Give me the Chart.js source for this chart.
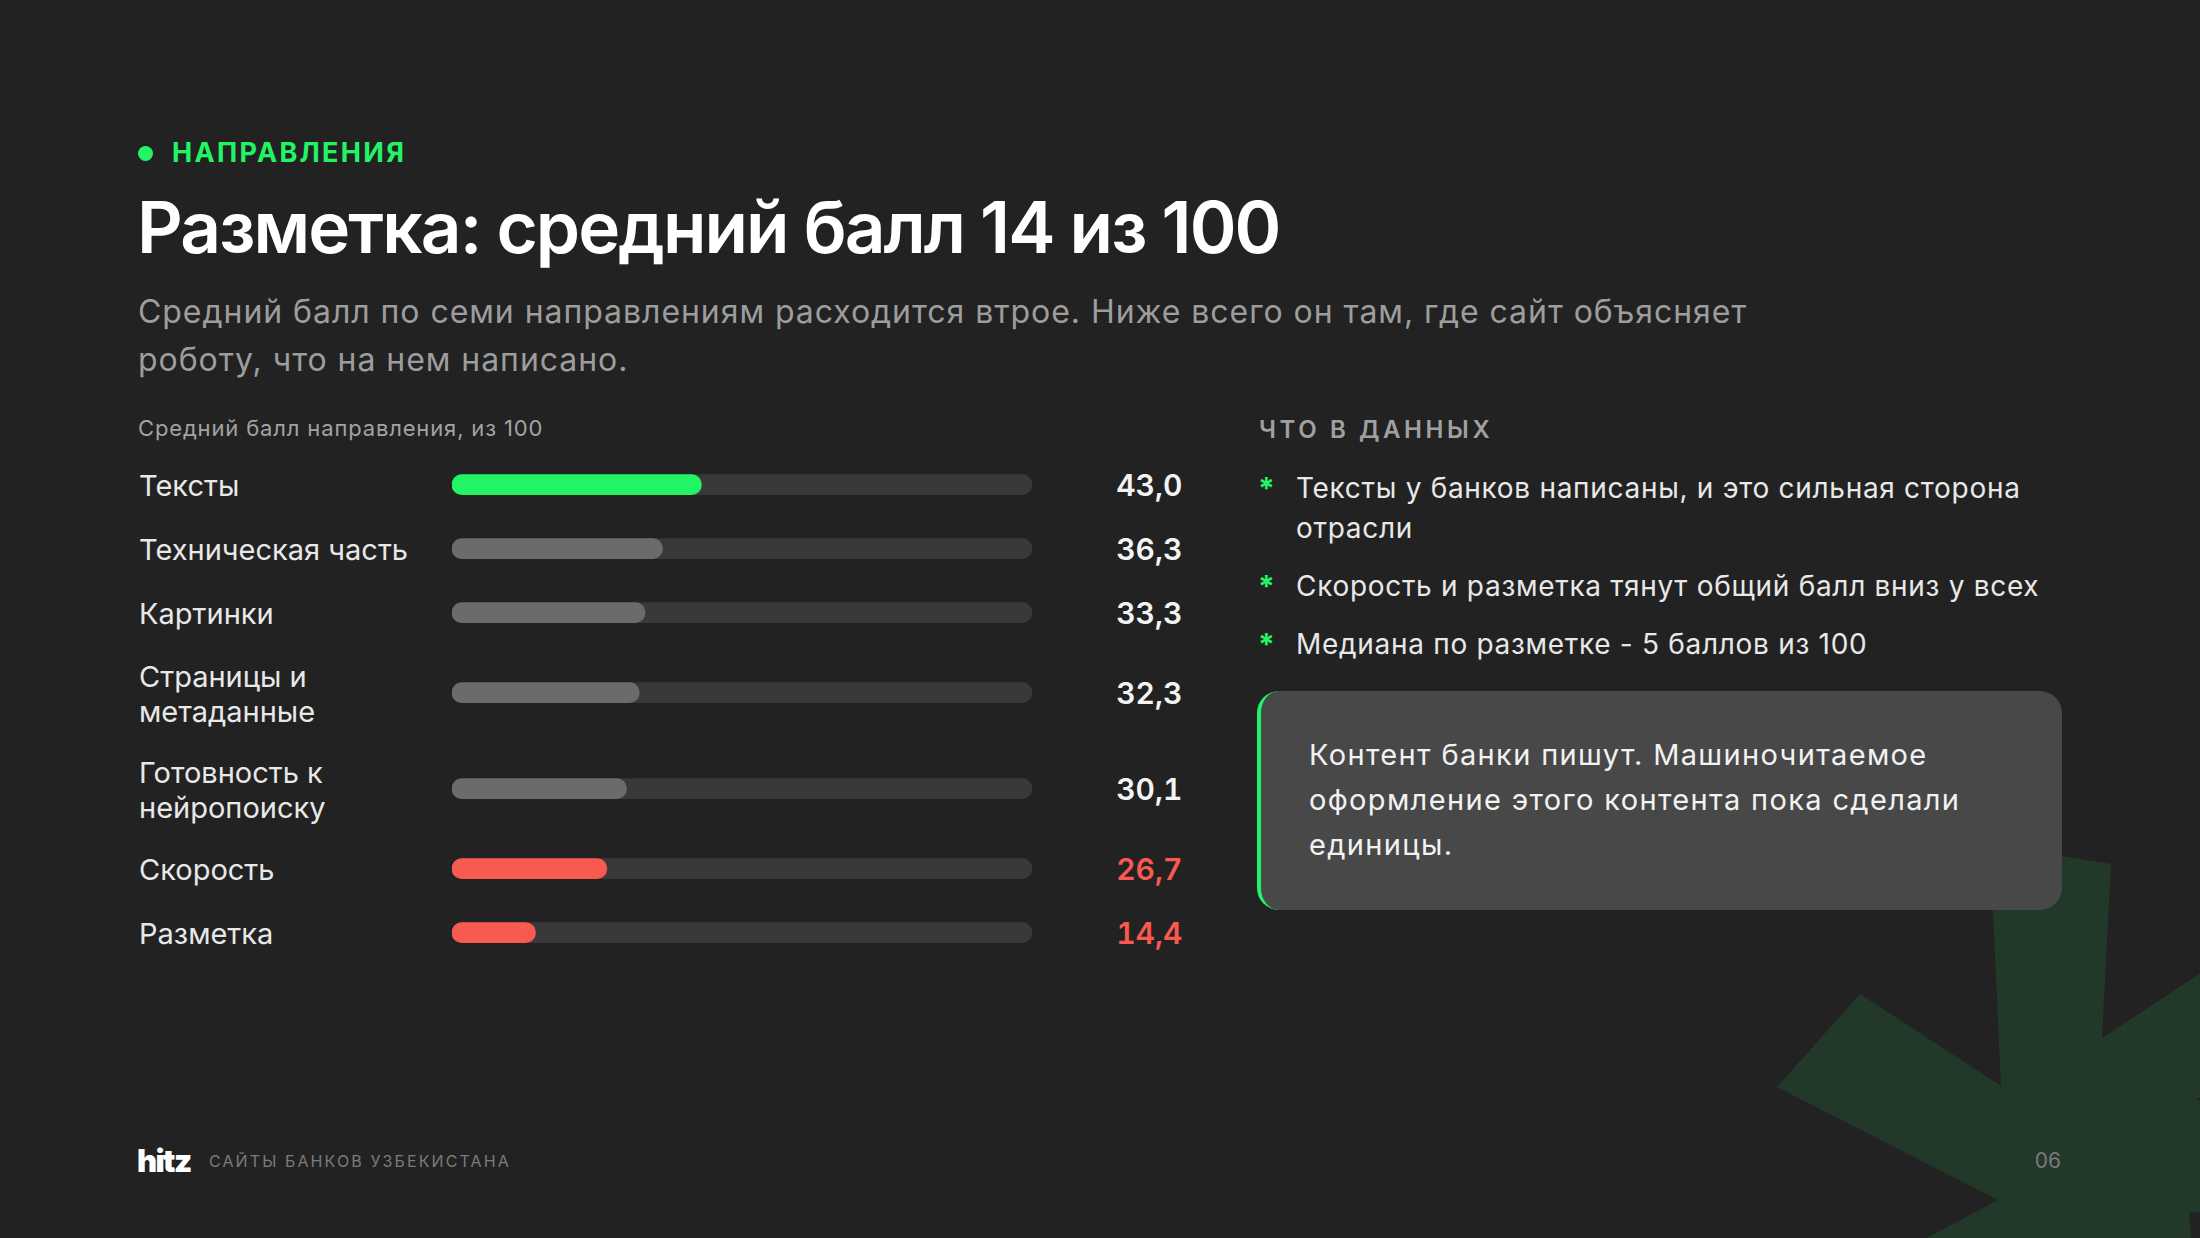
<!DOCTYPE html>
<html lang="ru">
<head>
    <meta charset="UTF-8">
    <title>Разметка: средний балл 14 из 100</title>
    <script src="https://cdn.jsdelivr.net/npm/chart.js"></script>
    <style>
        :root {
            --bg: #222222;
            --green: #22f565;
            --red: #f95a50;
            --muted: #9d9d9d;
        }
        html, body {
            margin: 0;
            padding: 0;
            background: var(--bg);
        }
        body {
            width: 2200px;
            height: 1238px;
            position: relative;
            overflow: hidden;
            font-family: "Inter", "Noto Sans", sans-serif;
            color: #ededed;
        }
        .deco {
            position: absolute;
            left: 0;
            top: 0;
        }
        .eyebrow {
            position: absolute;
            left: 172px;
            top: 137px;
            font-size: 27px;
            line-height: 32px;
            font-weight: 700;
            letter-spacing: 2.3px;
            color: var(--green);
        }
        .eyebrow-dot {
            position: absolute;
            left: 138px;
            top: 146px;
            width: 15px;
            height: 15px;
            border-radius: 50%;
            background: var(--green);
        }
        h1 {
            position: absolute;
            left: 137px;
            top: 187px;
            margin: 0;
            font-size: 71px;
            line-height: 80px;
            font-weight: 600;
            letter-spacing: -1.9px;
            color: #ffffff;
        }
        .lead {
            position: absolute;
            left: 138px;
            top: 288px;
            margin: 0;
            font-size: 32px;
            line-height: 48px;
            letter-spacing: 0.95px;
            color: var(--muted);
        }
        .caption {
            position: absolute;
            left: 138px;
            top: 414px;
            font-size: 22px;
            line-height: 28px;
            letter-spacing: 0.85px;
            color: #a3a3a3;
        }
        .rows {
            position: absolute;
            left: 139px;
            top: 466px;
            display: flex;
            flex-direction: column;
            gap: 26.6px;
        }
        .row {
            display: flex;
            align-items: center;
            min-height: 37.4px;
        }
        .row-label {
            position: relative;
            top: 2px;
            width: 312.5px;
            font-size: 29px;
            line-height: 34.7px;
            color: #e8e8e8;
        }
        .row-bar {
            position: relative;
            width: 580px;
            height: 37.4px;
        }
        .row-value {
            width: 151px;
            text-align: right;
            font-size: 30px;
            line-height: 34px;
            font-weight: 600;
            font-variant-numeric: tabular-nums;
            color: #f4f4f4;
        }
        .row-value.low { color: var(--red); }
        .side-title {
            position: absolute;
            left: 1259px;
            top: 416px;
            font-size: 24px;
            line-height: 28px;
            font-weight: 600;
            letter-spacing: 3.6px;
            color: #a0a0a0;
        }
        .notes {
            position: absolute;
            left: 1258px;
            top: 468px;
            width: 830px;
            margin: 0;
            padding: 0;
            list-style: none;
        }
        .notes li {
            position: relative;
            padding-left: 38px;
            margin-bottom: 18.2px;
            font-size: 28px;
            line-height: 40px;
            letter-spacing: 0.7px;
            white-space: nowrap;
            color: #e8e8e8;
        }
        .notes li::before {
            content: "*";
            position: absolute;
            left: 0;
            top: 0;
            font-weight: 700;
            font-size: 30px;
            color: var(--green);
        }
        .callout {
            position: absolute;
            left: 1257px;
            top: 691px;
            width: 805px;
            height: 219px;
            box-sizing: border-box;
            padding: 41px 30px 0 48px;
            background: #484848;
            border-left: 4px solid var(--green);
            border-radius: 22px;
            font-size: 29px;
            line-height: 45px;
            letter-spacing: 1.35px;
            white-space: nowrap;
            color: #f2f2f2;
        }
        .logo {
            position: absolute;
            left: 137px;
            top: 1144px;
            font-size: 31px;
            line-height: 34px;
            font-weight: 900;
            letter-spacing: -1.6px;
            color: #ffffff;
        }
        .footer-text {
            position: absolute;
            left: 209px;
            top: 1150.5px;
            font-size: 16px;
            line-height: 20px;
            letter-spacing: 2.1px;
            color: #7b7b7b;
        }
        .page-num {
            position: absolute;
            right: 139px;
            top: 1149px;
            font-size: 21px;
            line-height: 24px;
            color: #7a7a7a;
        }
    </style>
</head>
<body>
    <!-- background asterisk -->
    <svg class="deco" width="2200" height="1238" viewBox="0 0 2200 1238">
        <polygon fill="#22392a" points="1990,845 2111,864 2102,1038 2330,888 2330,1060 2196,1099 2330,1160 2330,1200 2189,1213 2200,1330 1860,1330 1880,1263 1998,1200 1777,1087 1860,994 2001,1086"/>
    </svg>

    <div class="eyebrow-dot"></div>
    <div class="eyebrow">НАПРАВЛЕНИЯ</div>
    <h1>Разметка: средний балл 14 из 100</h1>
    <p class="lead">Средний балл по семи направлениям расходится втрое. Ниже всего он там, где сайт объясняет<br>роботу, что на нем написано.</p>

    <div class="caption">Средний балл направления, из 100</div>
    <div class="rows" id="rows"></div>

    <div class="side-title">ЧТО В ДАННЫХ</div>
    <ul class="notes">
        <li>Тексты у банков написаны, и это сильная сторона<br>отрасли</li>
        <li>Скорость и разметка тянут общий балл вниз у всех</li>
        <li>Медиана по разметке - 5 баллов из 100</li>
    </ul>

    <div class="callout">Контент банки пишут. Машиночитаемое<br>оформление этого контента пока сделали<br>единицы.</div>

    <div class="logo">hitz</div>
    <div class="footer-text">САЙТЫ БАНКОВ УЗБЕКИСТАНА</div>
    <div class="page-num">06</div>

    <script>
        // Data
        const categories = [
            'Тексты',
            'Техническая часть',
            'Картинки',
            ['Страницы и', 'метаданные'],
            ['Готовность к', 'нейропоиску'],
            'Скорость',
            'Разметка'
        ];
        const scores = [43.0, 36.3, 33.3, 32.3, 30.1, 26.7, 14.4];
        const scaleMax = 100;
        const lowThreshold = 30;

        const colors = { top: '#22f565', mid: '#6b6b6b', low: '#f95a50', track: '#393939' };

        function tone(i) {
            if (i === 0) return 'top';
            return scores[i] < lowThreshold ? 'low' : 'mid';
        }

        function fmt(v) {
            return v.toFixed(1).replace('.', ',');
        }

        const rowsEl = document.getElementById('rows');

        categories.forEach(function (cat, i) {
            const row = document.createElement('div');
            row.className = 'row';

            const label = document.createElement('div');
            label.className = 'row-label';
            label.innerHTML = Array.isArray(cat) ? cat.join('<br>') : cat;

            const barBox = document.createElement('div');
            barBox.className = 'row-bar';
            const canvas = document.createElement('canvas');
            barBox.appendChild(canvas);

            const value = document.createElement('div');
            value.className = 'row-value' + (tone(i) === 'low' ? ' low' : '');
            value.textContent = fmt(scores[i]);

            row.appendChild(label);
            row.appendChild(barBox);
            row.appendChild(value);
            rowsEl.appendChild(row);

            new Chart(canvas.getContext('2d'), {
                type: 'bar',
                data: {
                    labels: [Array.isArray(cat) ? cat.join(' ') : cat],
                    datasets: [
                        {
                            data: [scores[i]],
                            backgroundColor: colors[tone(i)],
                            borderRadius: 10,
                            borderSkipped: false,
                            barThickness: 20,
                            grouped: false
                        },
                        {
                            data: [scaleMax],
                            backgroundColor: colors.track,
                            borderRadius: 10,
                            borderSkipped: false,
                            barThickness: 20,
                            grouped: false
                        }
                    ]
                },
                options: {
                    indexAxis: 'y',
                    responsive: true,
                    maintainAspectRatio: false,
                    animation: false,
                    layout: { padding: 0 },
                    plugins: {
                        legend: { display: false },
                        tooltip: { enabled: false }
                    },
                    scales: {
                        x: { min: 0, max: scaleMax, display: false },
                        y: { display: false }
                    }
                }
            });
        });
    </script>
</body>
</html>
